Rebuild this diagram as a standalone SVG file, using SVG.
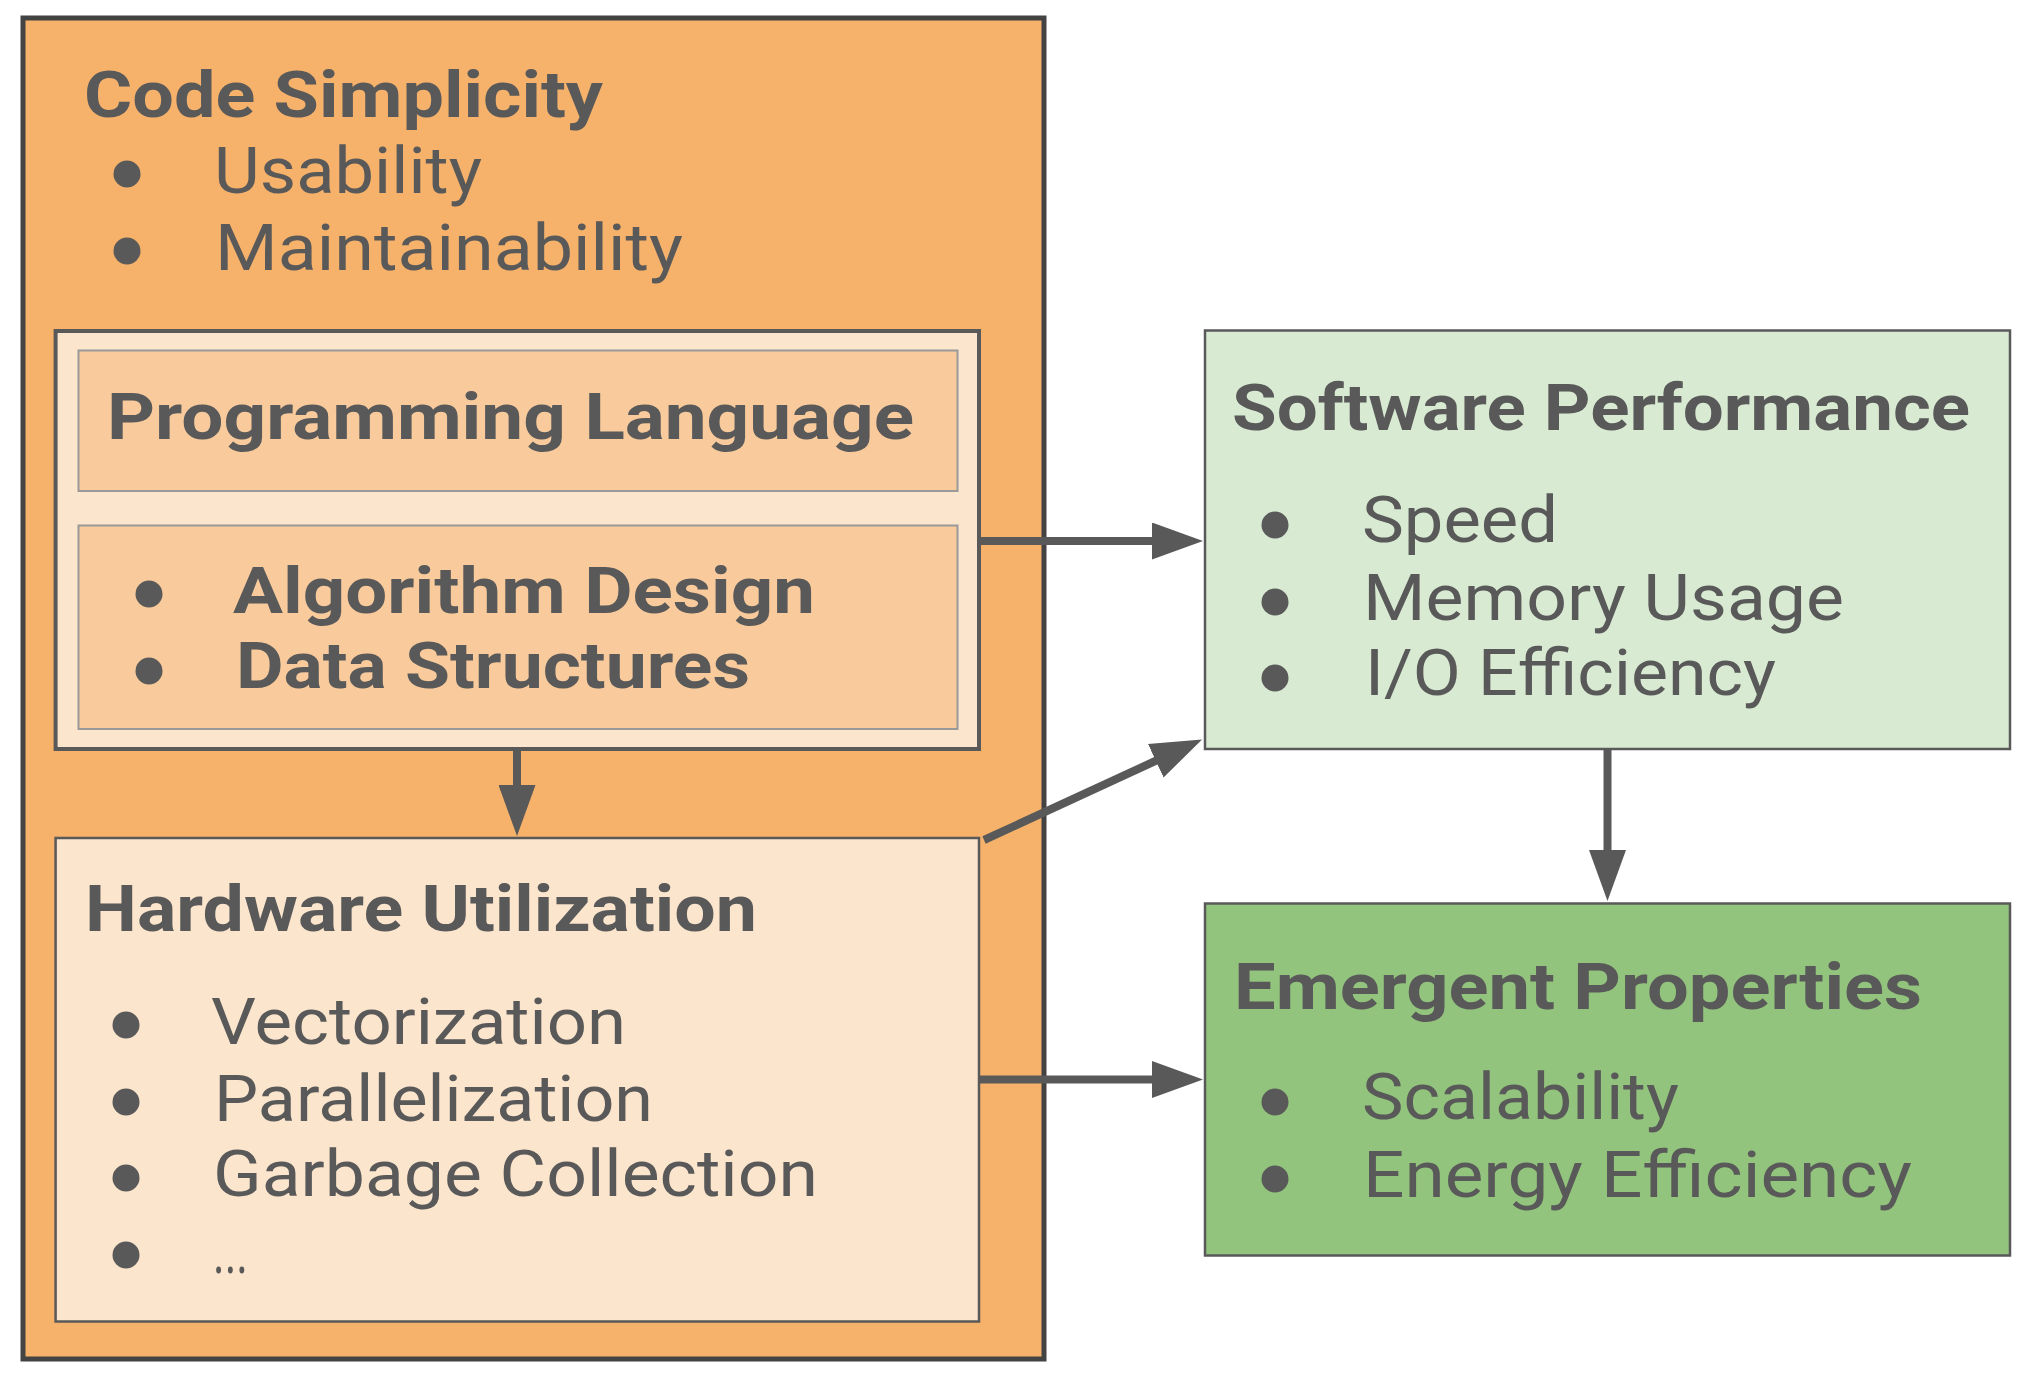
<svg xmlns="http://www.w3.org/2000/svg" width="2028" height="1379" viewBox="0 0 2028 1379">
<defs>
<style>
text{font-family:Roboto,"Liberation Sans",sans-serif;fill:#595959;font-size:64px}
.b{font-weight:700}
.r{font-weight:400}
.dot{fill:#595959}
.conn{stroke:#595959;stroke-width:8;fill:none}
</style>
<marker id="ah" viewBox="0 0 51 37" refX="3" refY="18.5" markerWidth="51" markerHeight="37" markerUnits="userSpaceOnUse" orient="auto">
<path d="M0,0 L51,18.5 L0,37 Z" fill="#595959"/>
</marker>
</defs>
<rect width="2028" height="1379" fill="#ffffff"/>

<g id="code-simplicity">
<rect x="23" y="18" width="1021" height="1341" fill="#F6B26B" stroke="#434343" stroke-width="5"/>
<text class="b" x="84" y="117" textLength="519" lengthAdjust="spacingAndGlyphs">Code Simplicity</text>
<circle class="dot" cx="127" cy="174" r="13.5"/>
<text class="r" x="214" y="193" textLength="268" lengthAdjust="spacingAndGlyphs">Usability</text>
<circle class="dot" cx="127" cy="251" r="13.5"/>
<text class="r" x="215" y="270" textLength="468" lengthAdjust="spacingAndGlyphs">Maintainability</text>
</g>

<g id="programming-language">
<rect x="55.6" y="331" width="923.4" height="418" fill="#FCE5CD" stroke="#595959" stroke-width="4"/>
<rect x="78.5" y="350.5" width="879" height="140.5" fill="#F9CB9C" stroke="#999999" stroke-width="2"/>
<text class="b" x="107" y="439" textLength="807" lengthAdjust="spacingAndGlyphs">Programming Language</text>
<rect x="78.5" y="525.5" width="879" height="203.5" fill="#F9CB9C" stroke="#999999" stroke-width="2"/>
<circle class="dot" cx="149" cy="594" r="13.5"/>
<text class="b" x="233" y="613" textLength="582" lengthAdjust="spacingAndGlyphs">Algorithm Design</text>
<circle class="dot" cx="149" cy="671" r="13.5"/>
<text class="b" x="236" y="688" textLength="514" lengthAdjust="spacingAndGlyphs">Data Structures</text>
</g>

<g id="hardware-utilization">
<rect x="55.6" y="838" width="923.4" height="483.5" fill="#FCE5CD" stroke="#595959" stroke-width="2.5"/>
<text class="b" x="85" y="931" textLength="672" lengthAdjust="spacingAndGlyphs">Hardware Utilization</text>
<circle class="dot" cx="126" cy="1025" r="13.5"/>
<text class="r" x="211" y="1044" textLength="415" lengthAdjust="spacingAndGlyphs">Vectorization</text>
<circle class="dot" cx="126" cy="1102" r="13.5"/>
<text class="r" x="214" y="1121" textLength="439" lengthAdjust="spacingAndGlyphs">Parallelization</text>
<circle class="dot" cx="126" cy="1178" r="13.5"/>
<text class="r" x="213" y="1196" textLength="605" lengthAdjust="spacingAndGlyphs">Garbage Collection</text>
<circle class="dot" cx="126" cy="1255" r="13.5"/>
<text class="r" x="213" y="1273" textLength="35" lengthAdjust="spacingAndGlyphs">...</text>
</g>

<g id="software-performance">
<rect x="1205" y="330.5" width="805" height="418.5" fill="#D9EAD3" stroke="#595959" stroke-width="2.5"/>
<text class="b" x="1232" y="430" textLength="738" lengthAdjust="spacingAndGlyphs">Software Performance</text>
<circle class="dot" cx="1275" cy="525" r="13.5"/>
<text class="r" x="1362" y="542" textLength="196" lengthAdjust="spacingAndGlyphs">Speed</text>
<circle class="dot" cx="1275" cy="602" r="13.5"/>
<text class="r" x="1363" y="620" textLength="481" lengthAdjust="spacingAndGlyphs">Memory Usage</text>
<circle class="dot" cx="1275" cy="678" r="13.5"/>
<text class="r" x="1365" y="695" textLength="411" lengthAdjust="spacingAndGlyphs">I/O Efficiency</text>
</g>

<g id="emergent-properties">
<rect x="1205" y="903.5" width="805" height="352" fill="#93C47D" stroke="#595959" stroke-width="2.5"/>
<text class="b" x="1234" y="1009" textLength="688" lengthAdjust="spacingAndGlyphs">Emergent Properties</text>
<circle class="dot" cx="1275" cy="1102" r="13.5"/>
<text class="r" x="1362" y="1119" textLength="317" lengthAdjust="spacingAndGlyphs">Scalability</text>
<circle class="dot" cx="1275" cy="1179" r="13.5"/>
<text class="r" x="1363" y="1197" textLength="549" lengthAdjust="spacingAndGlyphs">Energy Efficiency</text>
</g>

<g id="connectors">
<line class="conn" x1="979" y1="541" x2="1155" y2="541" marker-end="url(#ah)"/>
<line class="conn" x1="517" y1="751" x2="517" y2="788" marker-end="url(#ah)"/>
<line class="conn" x1="984" y1="840" x2="1158.5" y2="759.5" marker-end="url(#ah)"/>
<line class="conn" x1="1607.5" y1="750" x2="1607.5" y2="853" marker-end="url(#ah)"/>
<line class="conn" x1="979" y1="1079.5" x2="1155" y2="1079.5" marker-end="url(#ah)"/>
</g>
</svg>
